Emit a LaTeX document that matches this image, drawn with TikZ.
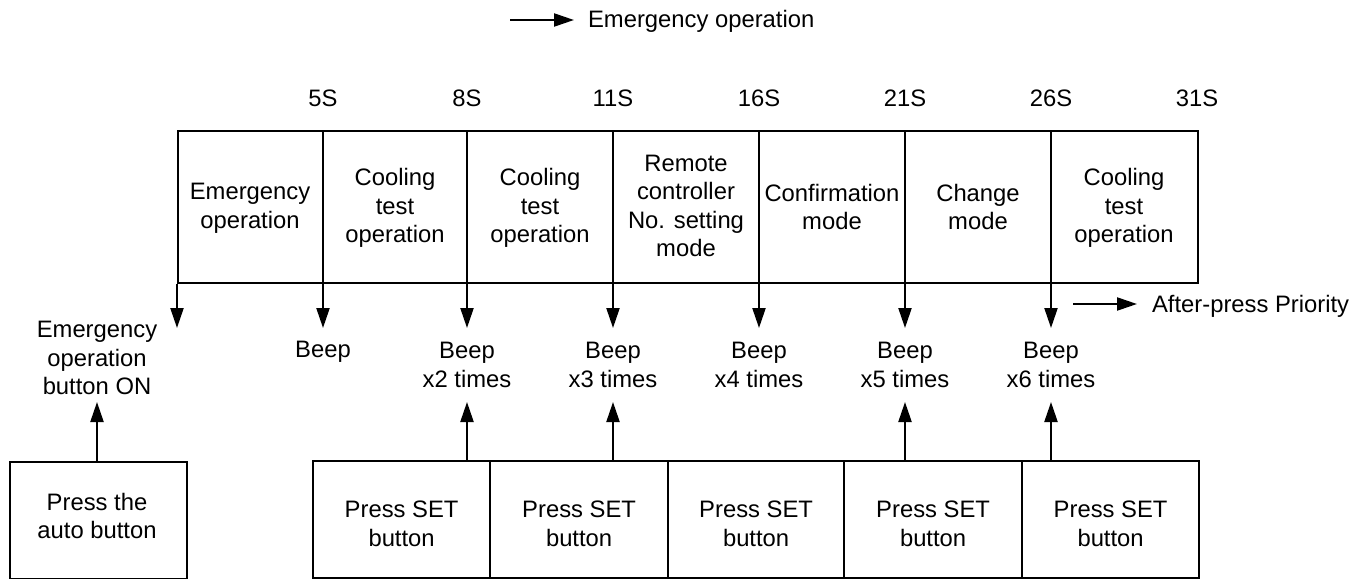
\documentclass[tikz,border=0pt]{standalone}
\usepackage{fontspec}
\setmainfont{Liberation Sans}
\usetikzlibrary{arrows.meta}
\begin{document}
\begin{tikzpicture}[x=1pt,y=-1pt,
  line width=2.2pt,
  txt/.style={font=\fontsize{23.8}{28.6}\selectfont, align=center, inner sep=0pt},
  arr/.style={-{Triangle[length=20pt,width=13pt]}},
  boxnode/.style={draw, line width=2.2pt, inner sep=0pt, anchor=north west}]
\useasboundingbox (0,0) rectangle (1364,578);

% legend
\coordinate (la0) at (510,20);
\coordinate (la1) at (574,20);
\draw[arr] (la0) -- (la1);
\node[txt, anchor=west] (legend) at (587,21) {Emergency operation};

% time labels
\node[txt] (t5)  at (323,98)  {5S};
\node[txt] (t8)  at (467,98)  {8S};
\node[txt] (t11) at (613,98)  {11S};
\node[txt] (t16) at (759,98)  {16S};
\node[txt] (t21) at (905,98)  {21S};
\node[txt] (t26) at (1051,98) {26S};
\node[txt] (t31) at (1197,98) {31S};

% top bar
\node[boxnode, minimum width=1020pt, minimum height=152pt] (bar) at (177,130) {};

% dividers extended as down arrows
\coordinate (tip0) at (177,328);
\draw[arr] (bar.south west) -- (tip0);
\foreach \x/\n in {323/1,467/2,613/3,759/4,905/5,1051/6}{
  \coordinate (top\n) at (\x,130);
  \coordinate (tip\n) at (\x,328);
  \draw[arr] (top\n) -- (tip\n);
}

% cell texts
\node[txt] (c1) at (250,208)  {Emergency\\operation};
\node[txt] (c2) at (395,208)  {Cooling\\test\\operation};
\node[txt] (c3) at (540,208)  {Cooling\\test\\operation};
\node[txt] (c4) at (686,206)  {Remote\\controller\\No. setting\\mode};
\node[txt] (c5) at (832,207)  {Confirmation\\mode};
\node[txt] (c6) at (978,207)  {Change\\mode};
\node[txt] (c7) at (1124,208) {Cooling\\test\\operation};

% after-press priority
\coordinate (pa0) at (1073,304);
\coordinate (pa1) at (1137,304);
\draw[arr] (pa0) -- (pa1);
\node[txt, anchor=west] (prio) at (1151,306) {After-press Priority};

% beep labels
\node[txt] (b1) at (323,352)   {Beep};
\node[txt] (b2) at (467,365)   {Beep\\x2 times};
\node[txt] (b3) at (613,365)   {Beep\\x3 times};
\node[txt] (b4) at (759,365)   {Beep\\x4 times};
\node[txt] (b5) at (905,365)   {Beep\\x5 times};
\node[txt] (b6) at (1051,365)  {Beep\\x6 times};

\node[txt] (eon) at (97,358) {Emergency\\operation\\button ON};

% bottom boxes
\node[boxnode, minimum width=177pt, minimum height=117pt] (auto) at (9,461) {};
\node[txt] (autot) at (97,516) {Press the\\auto button};

\node[boxnode, minimum width=177pt, minimum height=117pt] (s1) at (312,460) {};
\node[boxnode, minimum width=178pt, minimum height=117pt] (s2) at (489,460) {};
\node[boxnode, minimum width=176pt, minimum height=117pt] (s3) at (667,460) {};
\node[boxnode, minimum width=178pt, minimum height=117pt] (s4) at (843,460) {};
\node[boxnode, minimum width=177pt, minimum height=117pt] (s5) at (1021,460) {};
\foreach \n in {1,...,5}{
  \node[txt] at ([yshift=-4pt]s\n.center) {Press SET\\button};
}

% up arrows
\coordinate (ua) at (97,461);
\coordinate (uatip) at (97,402);
\draw[arr] (ua) -- (uatip);
\foreach \x/\n in {467/2,613/3,905/5,1051/6}{
  \coordinate (u\n) at (\x,460);
  \coordinate (ut\n) at (\x,402);
  \draw[arr] (u\n) -- (ut\n);
}
\end{tikzpicture}
\end{document}
